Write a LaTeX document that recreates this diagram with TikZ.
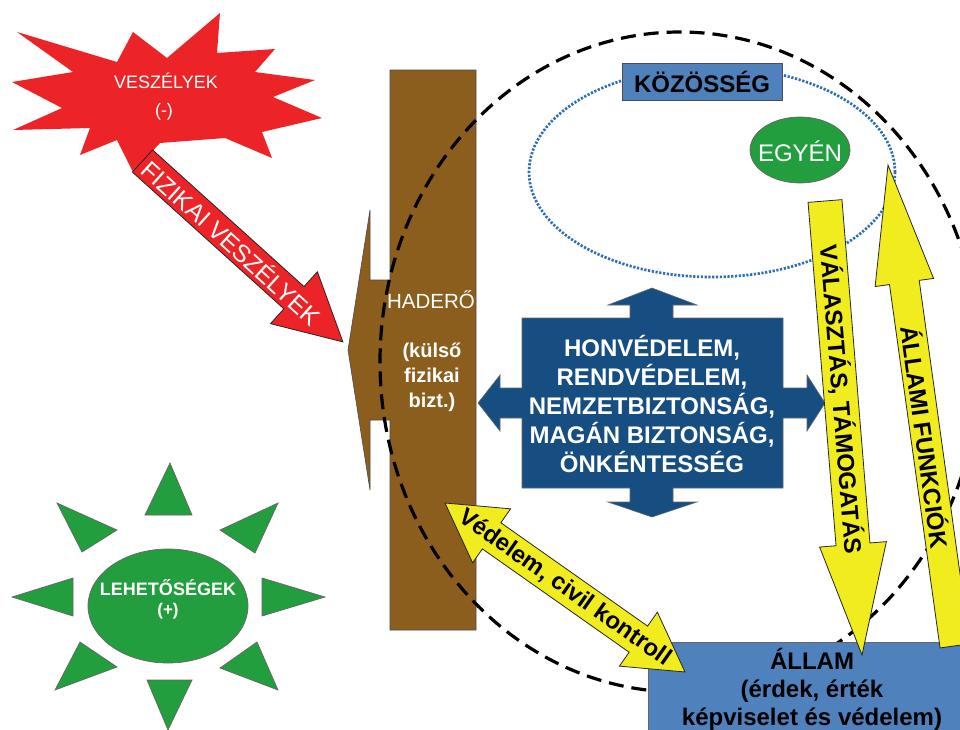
\documentclass[tikz,border=0pt]{standalone}
\usepackage{fontspec}
\setmainfont{Liberation Sans}
\definecolor{starred}{RGB}{236,36,40}
\definecolor{brownbar}{RGB}{139,94,30}
\definecolor{darkblue}{RGB}{23,78,130}
\definecolor{midblue}{RGB}{79,129,189}
\definecolor{ayellow}{RGB}{240,236,30}
\definecolor{sungreen}{RGB}{35,158,62}
\definecolor{dotblue}{RGB}{46,110,180}
\newcommand\myfs[2]{\fontsize{#1}{#2}\selectfont}
\begin{document}
\begin{tikzpicture}[x=1pt,y=-1pt,line join=miter,
  outl/.style={draw=black!85,line width=0.8pt},
  wtxt/.style={text=white,inner sep=0pt,align=center},
  btxt/.style={text=black,inner sep=0pt,align=center,font=\myfs{24}{28}\bfseries}]
\useasboundingbox (0,0) rectangle (960,729);
\fill[white] (0,0) rectangle (960,729);

% --- danger starburst
\fill[starred] (17,32) -- (117,62) -- (133,32) -- (167,58) -- (220,13) -- (217,53)
  -- (275,49) -- (255,72) -- (315,80) -- (273,97) -- (322,118) -- (262,132)
  -- (272,158) -- (225,138) -- (160,143) -- (133,172) -- (117,140) -- (80,155)
  -- (90,128) -- (13,130) -- (62,108) -- (12,82) -- (73,72) -- cycle;
\node[wtxt,font=\myfs{18}{22}] (vesz) at (166,81) {VESZÉLYEK};
\node[wtxt,font=\myfs{18}{22}] (veszm) at (164,112) {(-)};

% --- opportunity sun
\filldraw[fill=sungreen,draw=black!60,line width=0.7pt] (168,606) ellipse [x radius=80, y radius=57];
\foreach \a/\b/\c in {{(145,515)}/{(192,515)}/{(170,463)},
                      {(147,680)}/{(192,680)}/{(168,730)},
                      {(73,578)}/{(73,616)}/{(12,597)},
                      {(262,578)}/{(262,616)}/{(325,597)},
                      {(57,503)}/{(117,530)}/{(82,552)},
                      {(278,503)}/{(220,530)}/{(255,553)},
                      {(55,690)}/{(80,642)}/{(117,667)},
                      {(278,690)}/{(257,642)}/{(220,668)}}
  \filldraw[fill=sungreen,draw=black!60,line width=0.7pt] \a -- \b -- \c -- cycle;
\node[wtxt,font=\myfs{18}{22}\bfseries] (leh) at (168,588) {LEHETŐSÉGEK};
\node[wtxt,font=\myfs{17}{22}\bfseries] (lehp) at (168,611) {(+)};

% --- armed forces (brown)
\filldraw[fill=brownbar,draw=black!70,line width=0.6pt] (390,70) -- (476,70) -- (476,630) -- (390,630)
  -- (390,420) -- (370,420) -- (370,490) -- (348,350) -- (370,210) -- (370,280)
  -- (390,280) -- cycle;
\node[wtxt,font=\myfs{20.5}{24}] (had) at (431,300) {HADERŐ};
\node[wtxt,font=\myfs{20}{25}\bfseries] (hadk) at (432,377) {(külső\\fizikai\\bizt.)};

% --- community (dotted ellipse)
\draw[dotblue,line width=2.7pt,dash pattern=on 2.2pt off 1.6pt] (712,172) ellipse [x radius=183, y radius=105];
\node[draw=black!70,fill=midblue,line width=0.7pt,minimum width=160pt,minimum height=37pt,inner sep=0pt,
      font=\myfs{24}{28}\bfseries] (koz) at (702,81.5) {KÖZÖSSÉG};
\filldraw[fill=sungreen,draw=black!60,line width=0.7pt] (800,150) ellipse [x radius=50, y radius=33];
\node[wtxt,font=\myfs{24}{28}] (egy) at (800,151) {EGYÉN};

% --- dashed big ellipse
\draw[line width=3.2pt,dash pattern=on 15pt off 8pt] (680,362) ellipse [x radius=300, y radius=330];

% --- central blue cross
\filldraw[fill=darkblue,draw=black!60,line width=0.6pt] (522,318) -- (630,318) -- (630,305) -- (608,305) -- (652,288)
  -- (697,305) -- (673,305) -- (673,318) -- (783,318) -- (783,388) -- (807,388)
  -- (807,375) -- (825,403) -- (807,431) -- (807,418) -- (783,418) -- (783,488)
  -- (673,488) -- (673,502) -- (697,502) -- (652,517) -- (608,502) -- (630,502)
  -- (630,488) -- (522,488) -- (522,418) -- (500,418) -- (500,431) -- (478,403)
  -- (500,375) -- (500,388) -- (522,388) -- cycle;
\node[wtxt,font=\myfs{24}{29}\bfseries] (sec) at (652,404)
  {HONVÉDELEM,\\RENDVÉDELEM,\\NEMZETBIZTONSÁG,\\MAGÁN BIZTONSÁG,\\ÖNKÉNTESSÉG};

% --- state box
\filldraw[fill=midblue,draw=black!60,line width=0.7pt] (648,642) rectangle (975,745);
\node[btxt] (allam) at (812,689) {ÁLLAM\\(érdek, érték\\képviselet és védelem)};

% --- red arrow: physical dangers
\begin{scope}[shift={(142.5,161)},rotate=-42.07]
  \filldraw[fill=starred,outl] (0,-15) -- (204,-15) -- (204,-35) -- (270,0) -- (204,35) -- (204,15) -- (0,15) -- cycle;
  \node[wtxt,font=\myfs{24.5}{28},rotate=-42.07] (fiz) at (121,0) {FIZIKAI VESZÉLYEK};
\end{scope}

% --- yellow double arrow: defence, civil control
\begin{scope}[shift={(445,503)},rotate=-35.15]
  \filldraw[fill=ayellow,outl] (0,0) -- (57,-33) -- (57,-16) -- (236.5,-16) -- (236.5,-33) -- (293.5,0)
    -- (236.5,33) -- (236.5,16) -- (57,16) -- (57,33) -- cycle;
  \node[btxt,rotate=-35.15] (ved) at (147,0) {Védelem, civil kontroll};
\end{scope}

% --- yellow arrow: election, support
\begin{scope}[shift={(825,201)},rotate=-85.34]
  \filldraw[fill=ayellow,outl] (0,-17) -- (344.5,-17) -- (344.5,-33.5) -- (455.5,0) -- (344.5,33.5) -- (344.5,17) -- (0,17) -- cycle;
  \node[btxt,rotate=-85.34] (val) at (199,0) {VÁLASZTÁS, TÁMOGATÁS};
\end{scope}

% --- yellow arrow: state functions
\begin{scope}[shift={(888,165)},rotate=-82.08]
  \filldraw[fill=ayellow,outl] (0,0) -- (118.6,-29.5) -- (118.6,-15) -- (485.5,-15) -- (485.5,15) -- (118.6,15) -- (118.6,29.5) -- cycle;
  \node[btxt,rotate=-82.08] (fun) at (274.6,0) {ÁLLAMI FUNKCIÓK};
\end{scope}
\end{tikzpicture}
\end{document}
